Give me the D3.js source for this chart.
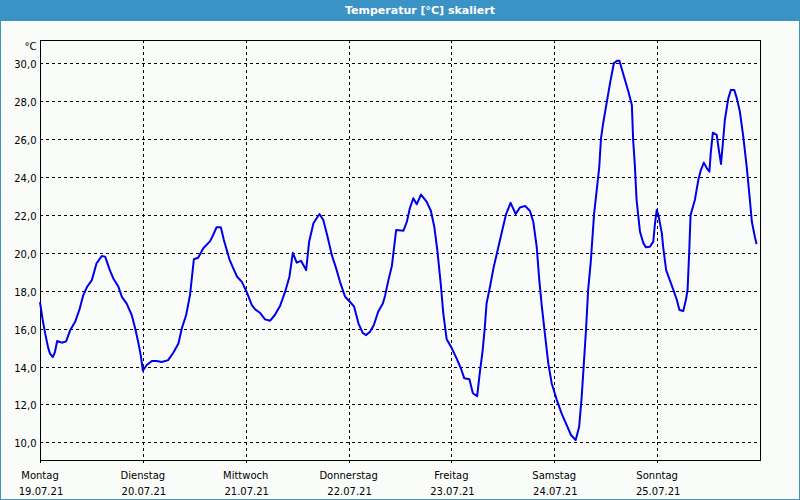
<!DOCTYPE html>
<html><head><meta charset="utf-8">
<script src="https://cdn.jsdelivr.net/npm/d3@7"></script>
<style>
html,body{margin:0;padding:0;background:#fafcfa;}
svg{display:block;}
text{font-family:"DejaVu Sans",Verdana,sans-serif;}
</style></head>
<body>
<svg id="chart" width="800" height="500"></svg>
<script>
const title = "Temperatur [°C] skaliert";
const unitLabel = "°C";
const dayNames = ["Montag","Dienstag","Mittwoch","Donnerstag","Freitag","Samstag","Sonntag"];
const dayDates = ["19.07.21","20.07.21","21.07.21","22.07.21","23.07.21","24.07.21","25.07.21"];
const yTicks = [10,12,14,16,18,20,22,24,26,28,30];
// hours since Monday 00:00
const hours = [0,0.6,1.2,1.9,2.3,3.0,3.5,4.0,5.1,6.1,7.0,8.2,9.2,10.1,11.0,12.1,13.2,14.4,15.2,16.3,17.1,18.3,19.1,20.2,21.4,22.2,22.9,23.5,24.0,
24.9,26.1,27.2,28.4,29.9,31.1,32.3,33.1,34.1,35.0,35.9,36.9,38.1,39.7,40.4,41.2,42.2,42.9,44.2,45.1,46.0,
47.1,48.2,49.4,50.2,51.3,52.5,53.7,54.8,56.0,57.2,58.2,59.0,59.9,60.9,62.1,62.8,63.8,65.2,66.1,67.0,68.1,69.1,70.0,
71.2,72.3,73.3,74.3,75.3,76.1,77.0,77.9,78.9,80.0,80.5,81.3,82.1,83.1,84.8,85.6,86.3,87.1,87.9,88.9,90.2,91.2,92.0,92.7,93.5,94.1,94.9,
96.1,97.2,98.2,99.0,100.2,101.0,102.0,102.7,103.3,103.8,104.2,105.0,105.8,106.7,107.7,108.7,109.8,111.0,112.0,113.2,114.3,115.1,115.9,116.5,117.1,117.8,118.6,119.4,
120.6,121.7,122.9,123.9,125.0,125.8,126.4,126.9,127.4,127.9,128.5,129.3,129.9,130.5,130.9,131.4,132.2,133.0,133.9,134.7,135.2,135.7,136.5,137.3,138.1,138.4,138.8,139.2,140.0,140.8,141.4,142.3,143.1,143.5,
143.9,144.3,145.1,145.4,146.1,146.8,147.8,148.6,149.2,150.1,150.7,151.1,151.5,151.8,152.8,153.6,154.2,154.9,155.6,156.2,156.5,157.0,157.9,158.4,158.9,159.3,159.8,160.6,161.2,162.0,162.6,163.3,164.1,164.9,165.5,166.1,166.8,167.2];
const temps = [17.4,16.5,15.75,15.0,14.7,14.5,14.78,15.35,15.26,15.33,15.9,16.36,17.0,17.77,18.21,18.56,19.45,19.83,19.8,19.09,18.65,18.21,17.68,17.33,16.72,16.02,15.31,14.61,13.78,
14.08,14.29,14.29,14.24,14.34,14.73,15.22,16.02,16.72,17.77,19.66,19.74,20.24,20.62,20.94,21.35,21.35,20.68,19.66,19.18,18.74,
18.47,17.95,17.25,17.02,16.84,16.49,16.42,16.72,17.19,17.95,18.74,20.0,19.48,19.58,19.09,20.59,21.56,22.05,21.73,20.94,19.88,19.18,18.47,
17.68,17.42,17.16,16.28,15.78,15.66,15.84,16.19,16.89,17.33,17.72,18.56,19.3,21.2,21.17,21.64,22.35,22.88,22.56,23.07,22.7,22.22,21.38,20.15,18.39,16.81,15.44,
14.96,14.43,13.91,13.38,13.33,12.59,12.44,13.82,14.87,16.1,17.33,18.21,19.18,20.06,21.03,22.0,22.64,22.05,22.4,22.47,22.22,21.64,20.32,18.56,17.16,15.75,14.17,13.11,
12.23,11.53,10.91,10.39,10.12,10.82,12.41,14.17,15.93,18.04,19.5,22.08,23.31,24.54,26.04,26.83,27.89,28.94,30.0,30.14,30.14,29.74,29.12,28.5,27.8,25.95,24.63,22.79,21.11,20.5,20.29,20.32,20.59,21.56,
22.26,21.99,21.03,20.32,19.09,18.65,18.04,17.51,16.98,16.93,17.51,18.04,20.15,21.99,22.79,23.84,24.37,24.76,24.46,24.28,25.25,26.34,26.22,25.42,24.69,25.69,27.01,28.15,28.59,28.59,28.15,27.45,26.13,24.54,23.14,21.64,20.85,20.46];

const svg = d3.select("#chart");
const L = 40, R = 760, T = 40, B = 460;
const x = d3.scaleLinear().domain([0, 168]).range([L, R]);
const y = d3.scaleLinear().domain([9.07, 31.23]).range([B, T]);
const px = v => Math.round(v) + 0.5;

// background + title bar + frame
svg.append("rect").attr("x",0).attr("y",0).attr("width",800).attr("height",500).attr("fill","#fafcfa");
svg.append("rect").attr("x",0).attr("y",0).attr("width",800).attr("height",21).attr("fill","#3b92c4");
svg.append("rect").attr("x",0.5).attr("y",0.5).attr("width",799).attr("height",499)
  .attr("fill","none").attr("stroke","#3b92c4").attr("stroke-width",1);
svg.append("text").attr("x",420).attr("y",14).attr("text-anchor","middle")
  .attr("fill","#ffffff").attr("font-weight","bold").attr("font-size","11px").text(title);

// horizontal grid
svg.append("g").selectAll("line").data(yTicks).join("line")
  .attr("x1",L).attr("x2",R).attr("y1",d=>px(y(d))).attr("y2",d=>px(y(d)))
  .attr("stroke","#000").attr("stroke-width",1).attr("stroke-dasharray","3,3").attr("shape-rendering","crispEdges");

// vertical grid (day boundaries)
const dayIdx = d3.range(1, 7);
svg.append("g").selectAll("line").data(dayIdx).join("line")
  .attr("x1",d=>px(x(d*24))).attr("x2",d=>px(x(d*24))).attr("y1",T).attr("y2",B+3)
  .attr("stroke","#000").attr("stroke-width",1).attr("stroke-dasharray","3,3").attr("shape-rendering","crispEdges");

// frame
svg.append("rect").attr("x",L+0.5).attr("y",T+0.5).attr("width",R-L).attr("height",B-T)
  .attr("fill","none").attr("stroke","#000").attr("stroke-width",1).attr("shape-rendering","crispEdges");
svg.append("line").attr("x1",L+0.5).attr("x2",L+0.5).attr("y1",B).attr("y2",B+3).attr("stroke","#000").attr("shape-rendering","crispEdges");

// y labels
const fmt = v => d3.format(".1f")(v).replace(".", ",");
svg.append("g").selectAll("text").data(yTicks).join("text")
  .attr("x",36.5).attr("y",d=>Math.round(y(d))+5).attr("text-anchor","end")
  .attr("font-size","10px").attr("fill","#000").text(d=>fmt(d));
svg.append("text").attr("x",36.5).attr("y",49.5).attr("text-anchor","end")
  .attr("font-size","10px").attr("fill","#000").text(unitLabel);

// x labels
const xl = svg.append("g");
xl.selectAll("text.day").data(dayNames).join("text").attr("class","day")
  .attr("x",(d,i)=>x(i*24)).attr("y",478.5).attr("text-anchor","middle")
  .attr("font-size","10px").attr("fill","#000").text(d=>d);
xl.selectAll("text.date").data(dayDates).join("text").attr("class","date")
  .attr("x",(d,i)=>x(i*24)+1).attr("y",495.3).attr("text-anchor","middle")
  .attr("font-size","10px").attr("fill","#000").text(d=>d);

// line
const pts = hours.map((h,i)=>[h, temps[i]]);
svg.append("path").datum(pts)
  .attr("fill","none").attr("stroke","#0000e8").attr("stroke-width",2).attr("stroke-linejoin","round")
  .attr("d", d3.line().x(d=>x(d[0])).y(d=>y(d[1])));
</script>
</body></html>
